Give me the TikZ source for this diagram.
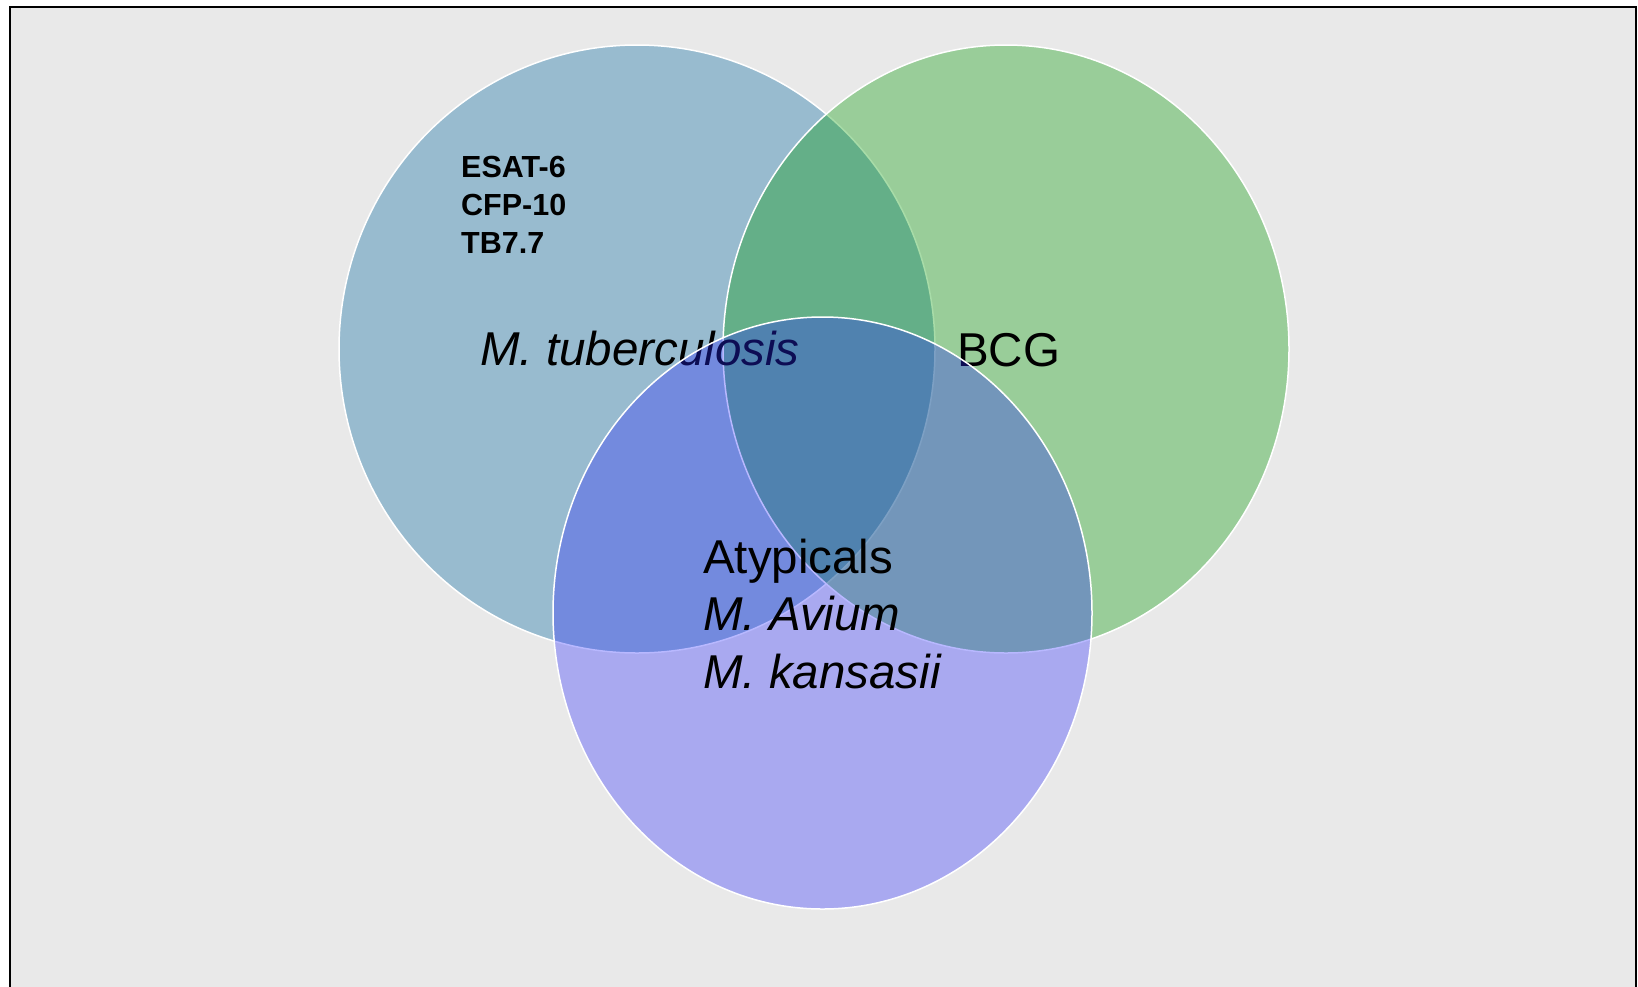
\documentclass[tikz,border=0pt]{standalone}
\usepackage{fontspec}
\setmainfont{Liberation Sans}
\usetikzlibrary{positioning}
\definecolor{panelgray}{HTML}{E9E9E9}
\definecolor{tbblue}{HTML}{98BBCF}
\definecolor{bcggreen}{HTML}{009900}
\definecolor{atyppurple}{HTML}{2828FF}

\begin{document}
\begin{tikzpicture}[x=1pt, y=-1pt,
    setedge/.style={draw=white, line width=1.5pt},
    bigtext/.style={font=\fontsize{47.5}{57.5}\selectfont, anchor=base west, inner sep=0pt, align=left},
    smalltext/.style={font=\bfseries\fontsize{30.5}{38}\selectfont, anchor=base west, inner sep=0pt, align=left}]
    % Rahmen
    \useasboundingbox (0,0) rectangle (1638,986);
    \clip (0,0) rectangle (1638,986);
    \draw[fill=panelgray, line width=2.5pt] (10,7) rectangle (1636,1000);

    % Mengen
    \draw[setedge, fill=tbblue] (637,349) ellipse [x radius=298pt, y radius=304pt];
    \draw[setedge, fill=bcggreen, fill opacity=0.34] (1006,349) ellipse [x radius=283pt, y radius=304pt];

    % Beschriftungen unter dem dritten Kreis
    \node[bigtext] (mtb) at (480,365) {\itshape M. tuberculosis};
    \node[bigtext] (bcg) at (957,366) {BCG};

    \draw[setedge, fill=atyppurple, fill opacity=0.33] (822.5,613) ellipse [x radius=269.5pt, y radius=296pt];

    % Antigene und Atypische (Basislinie = letzte Zeile)
    \node[smalltext] (antigens) at (461,253) {ESAT-6\\CFP-10\\TB7.7};
    \node[bigtext] (atyp) at (703,688) {Atypicals\\\textit{M. Avium}\\\textit{M. kansasii}};
\end{tikzpicture}
\end{document}
